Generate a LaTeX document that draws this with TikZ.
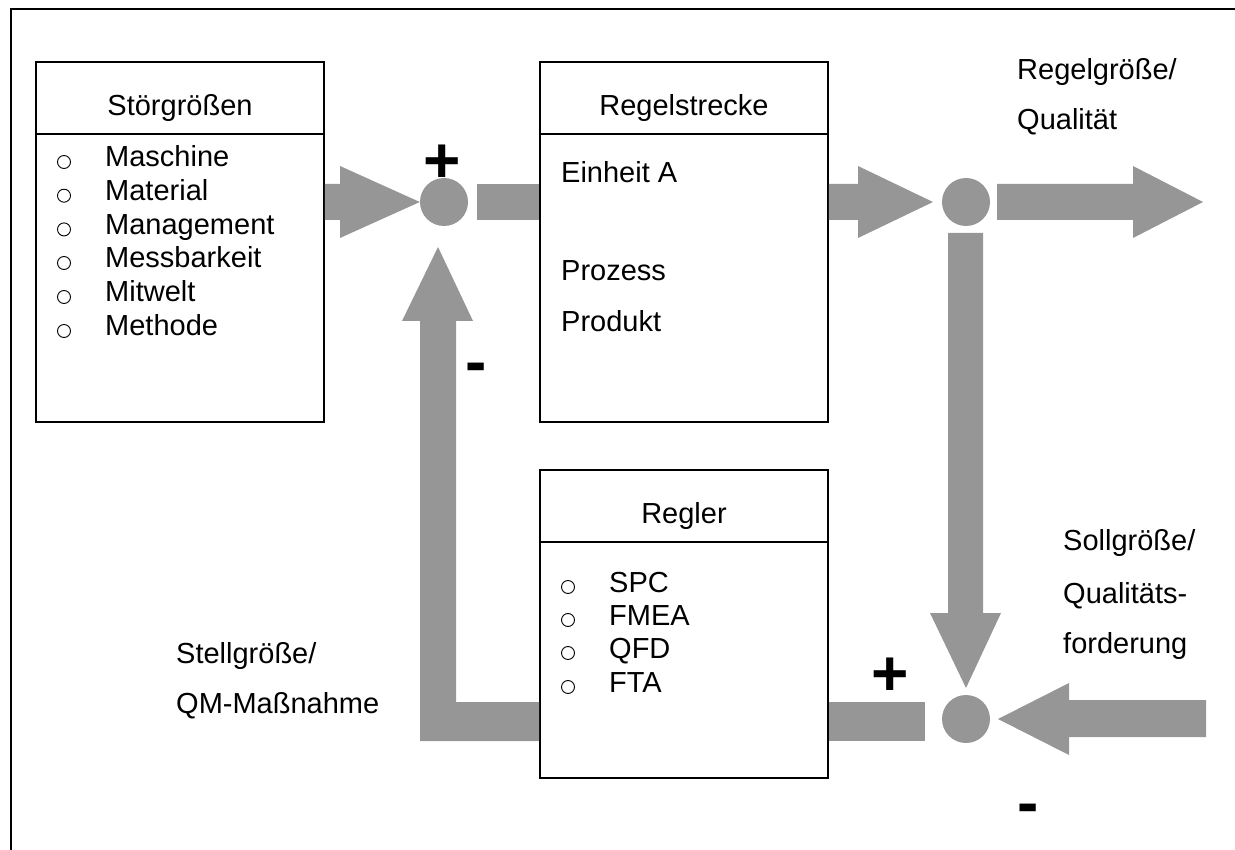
\documentclass[tikz,border=0pt]{standalone}
\usepackage{fontspec}
\setmainfont{Liberation Sans}
\definecolor{flowgray}{RGB}{150,150,150}
\begin{document}
\begin{tikzpicture}[x=1pt,y=-1pt,
  lbl/.style={inner sep=0pt,anchor=base west,font=\fontsize{29}{34}\selectfont},
  ttl/.style={inner sep=0pt,anchor=base,font=\fontsize{29}{34}\selectfont},
  sign/.style={inner sep=0pt,anchor=base,font=\fontsize{64}{64}\selectfont\bfseries},
  blockbox/.style={draw=black,line width=1.6pt,fill=white,rectangle,inner sep=0pt},
  junction/.style={circle,fill=flowgray,minimum size=48pt,inner sep=0pt},
  flow/.style={fill=flowgray,draw=none},
  bullet/.style={circle,draw=black,line width=0.9pt,minimum size=13pt,inner sep=0pt}
]
\useasboundingbox (0,0) rectangle (1235,850);

% outer frame (open to the right and bottom)
\draw[line width=1.8pt] (11,850) -- (11,9) -- (1235,9);

% summing points
\node[junction] (s1) at (444,202) {};
\node[junction] (s2) at (966,202) {};
\node[junction] (s3) at (966,719) {};

% blocks
\node[blockbox,minimum width=288pt,minimum height=360pt] (stoer) at (180,242) {};
\node[blockbox,minimum width=288pt,minimum height=360pt] (strecke) at (684,242) {};
\node[blockbox,minimum width=288pt,minimum height=308pt] (regler) at (684,624) {};

% header dividers
\draw[line width=1.6pt] (stoer.west |- 0,134) -- (stoer.east |- 0,134);
\draw[line width=1.6pt] (strecke.west |- 0,134) -- (strecke.east |- 0,134);
\draw[line width=1.6pt] (regler.west |- 0,542) -- (regler.east |- 0,542);

% block titles
\node[ttl] (stoerT) at (180,116) {Störgrößen};
\node[ttl] (streckeT) at (684,116) {Regelstrecke};
\node[ttl] (reglerT) at (684,523) {Regler};

% disturbance list
\foreach \y/\t [count=\i] in {167/Maschine,200.7/Material,234.4/Management,268/Messbarkeit,302/Mitwelt,336/Methode}{
  \node[bullet] (sb\i) at (64,\y-5) {};
  \node[lbl] (si\i) at (105,\y) {\t};
}

% plant contents
\node[lbl] (einheit) at (561,183) {Einheit A};
\node[lbl] (prozess) at (561,281) {Prozess};
\node[lbl] (produkt) at (561,332) {Produkt};

% controller list
\foreach \y/\t [count=\i] in {592/SPC,625/FMEA,658/QFD,692/FTA}{
  \node[bullet] (rb\i) at (568,\y-5) {};
  \node[lbl] (ri\i) at (609,\y) {\t};
}

% signal labels
\node[lbl] (regelgr) at (1017,80) {Regelgröße/};
\node[lbl] (qual) at (1017,130) {Qualität};
\node[lbl] (sollgr) at (1063,550) {Sollgröße/};
\node[lbl] (qualf) at (1063,603) {Qualitäts-};
\node[lbl] (ford) at (1063,653) {forderung};
\node[lbl] (stellgr) at (176,663) {Stellgröße/};
\node[lbl] (qmm) at (176,713) {QM-Maßnahme};

% signs at the summing points
\node[sign] (p1) at (442,183) {+};
\node[sign] (m1) at (476,384) {-};
\node[sign] (p2) at (890,695) {+};
\node[sign] (m2) at (1028,824) {-};

% disturbances into the first summing point
\fill[flow] (stoer.east |- 0,184) -- (340,184) -- (340,166) -- (s1.west |- 0,202) -- (340,238) -- (340,220) -- (stoer.east |- 0,220) -- cycle;
% first summing point into the plant
\fill[flow] (477,184) rectangle (strecke.west |- 0,220);
% plant output into the branch point
\fill[flow] (strecke.east |- 0,184) -- (858,184) -- (858,166) -- (933,202) -- (858,238) -- (858,220) -- (strecke.east |- 0,220) -- cycle;
% controlled variable out
\fill[flow] (997,184) -- (1133,184) -- (1133,166) -- (1203,202) -- (1133,238) -- (1133,220) -- (997,220) -- cycle;
% feedback of the controlled variable
\fill[flow] (948,233) -- (948,613) -- (930,613) -- (966,688) -- (1001,613) -- (983,613) -- (983,233) -- cycle;
% set point into the comparison point
\fill[flow] (1206,700) -- (1069,700) -- (1069,683) -- (998,719) -- (1069,755) -- (1069,737) -- (1206,737) -- cycle;
% comparison point into the controller
\fill[flow] (regler.east |- 0,702) rectangle (925,741);
% manipulated variable back to the first summing point
\fill[flow] (regler.west |- 0,702) -- (456,702) -- (456,321) -- (473,321) -- (438,247) -- (402,321) -- (420,321) -- (420,741) -- (regler.west |- 0,741) -- cycle;
\end{tikzpicture}
\end{document}
